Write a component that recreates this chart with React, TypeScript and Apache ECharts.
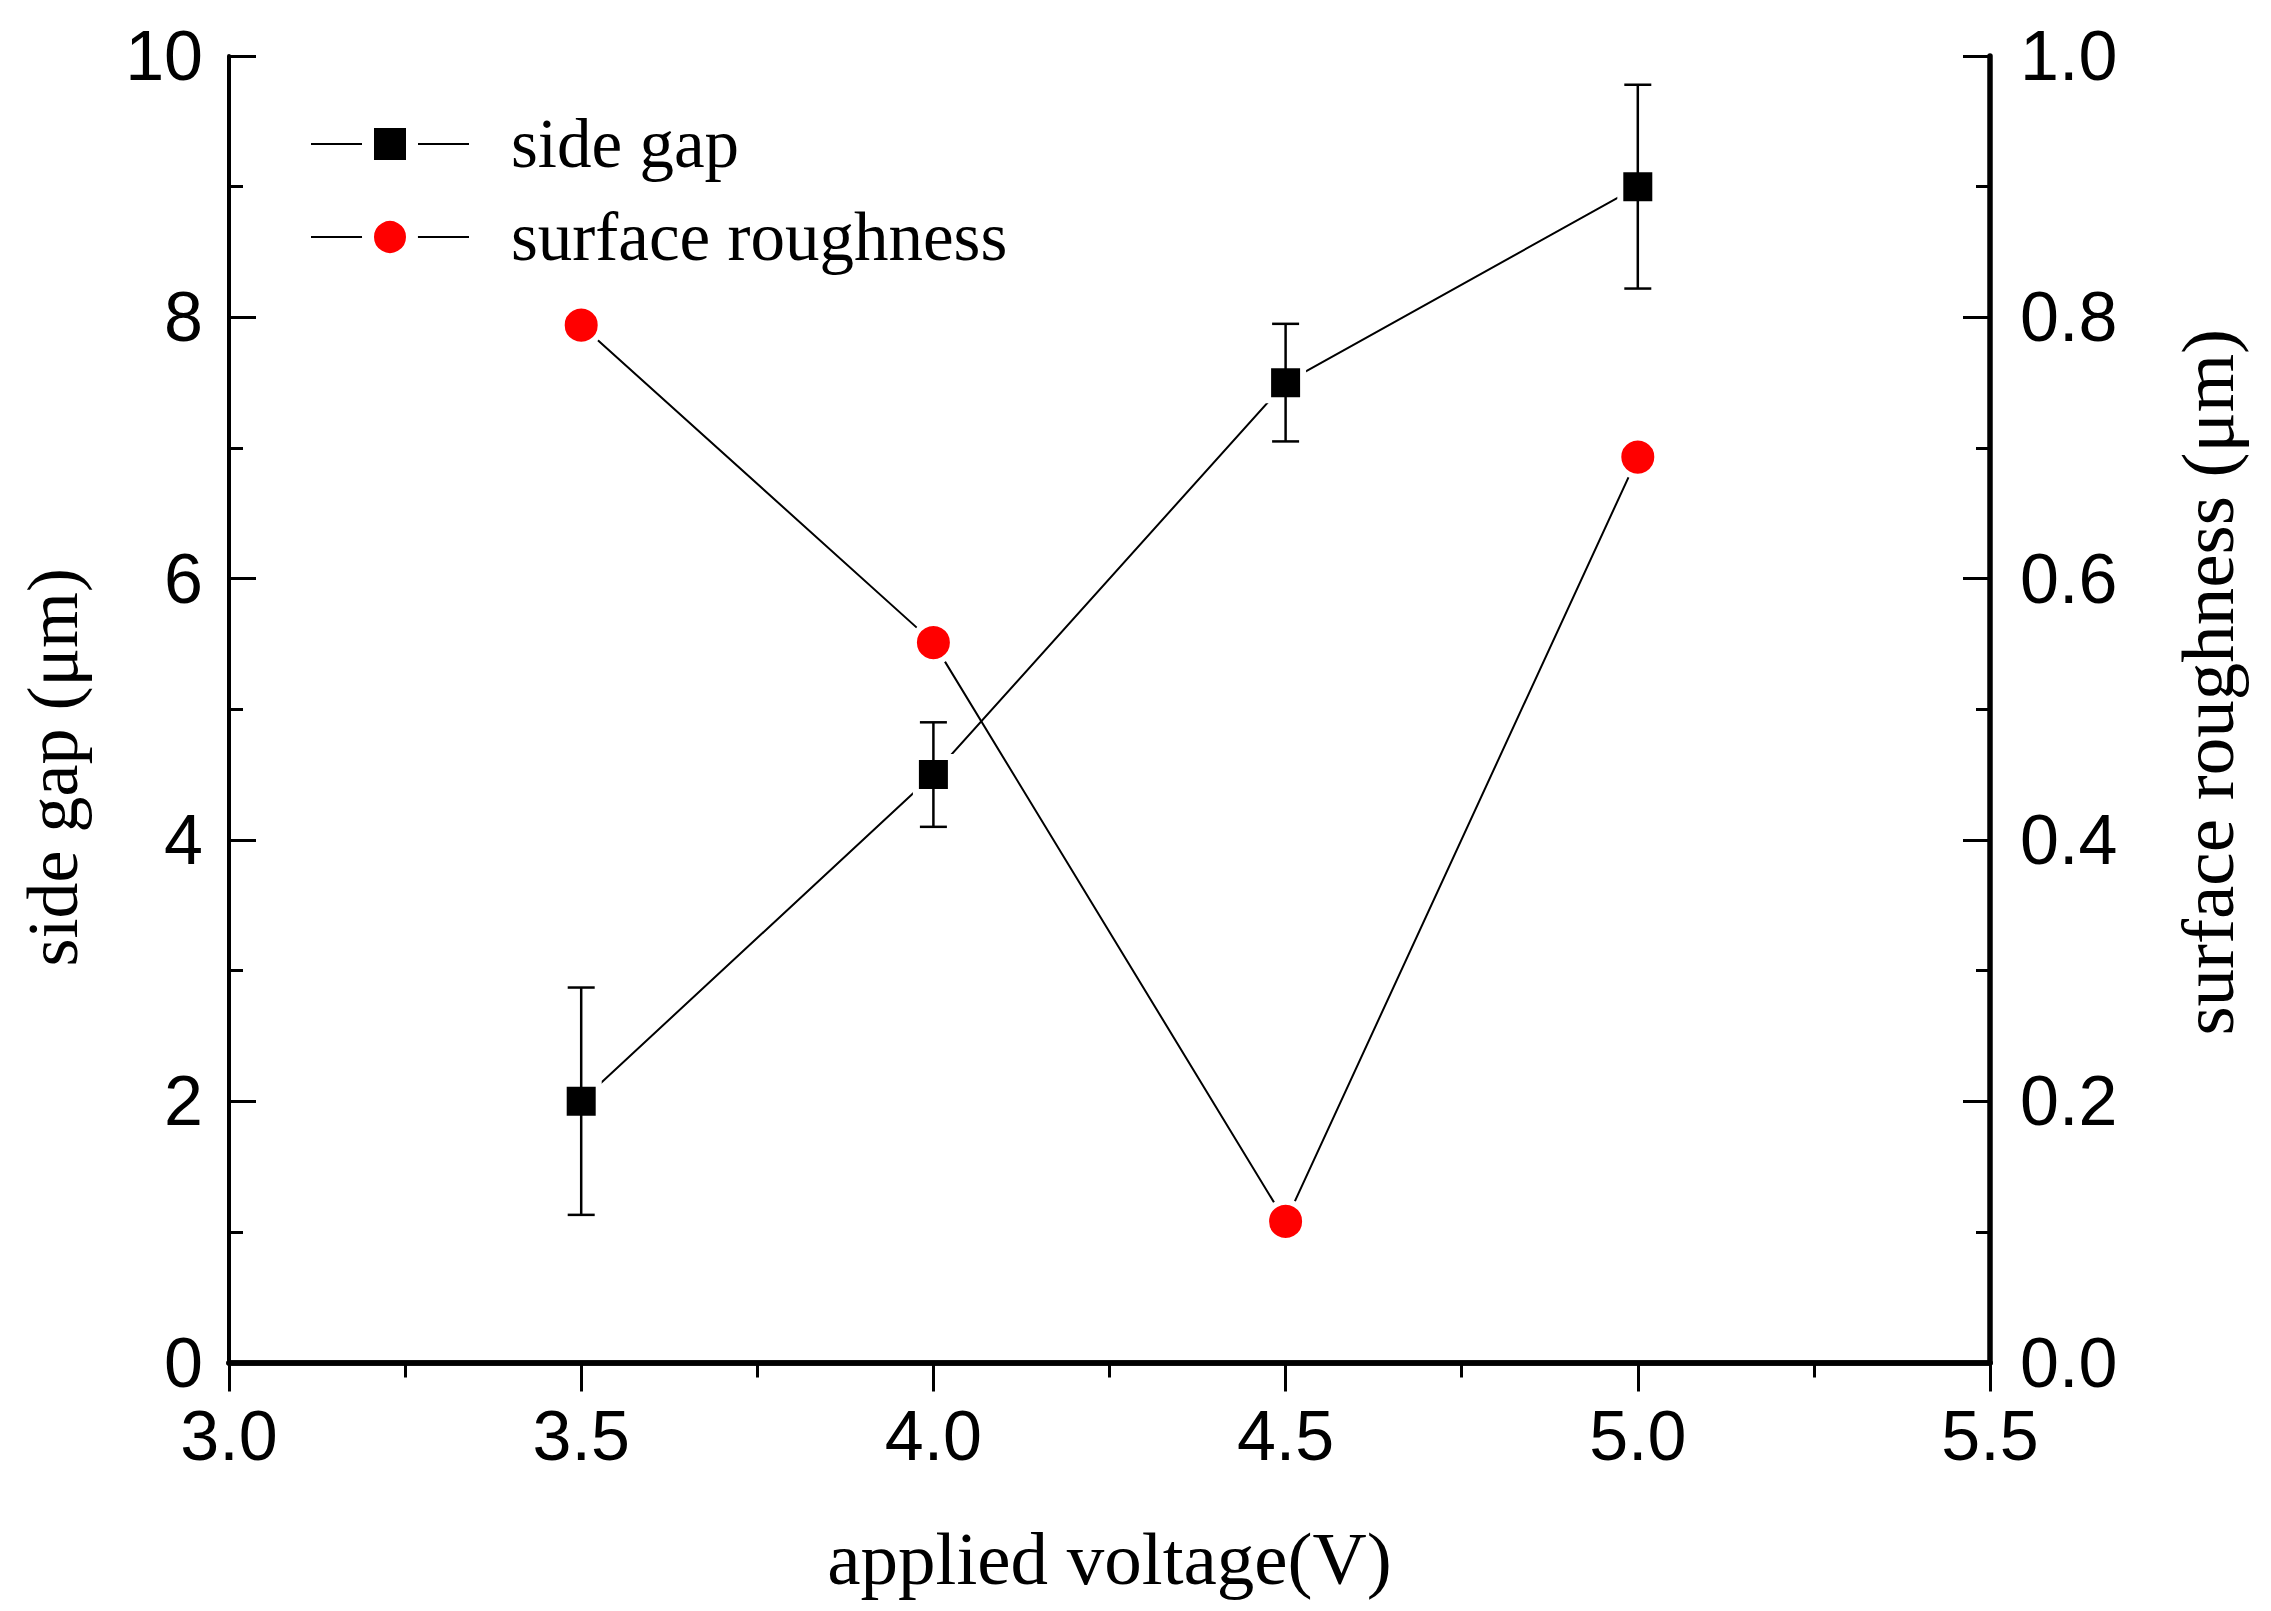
import React, { useEffect, useRef } from "react";
import * as echarts from "echarts";

const xValues = [3.5, 4.0, 4.5, 5.0];
const sideGap = [2.0, 4.5, 7.5, 9.0];
const sideGapErr = [0.87, 0.4, 0.45, 0.78];
const roughness = [0.794, 0.551, 0.108, 0.693];
const seriesNames = ["side gap", "surface roughness"];
const xAxisTitle = "applied voltage(V)";
const leftTitle = "side gap (μm)";
const rightTitle = "surface roughness (μm)";

const SANS = "Liberation Sans";
const SERIF = "Liberation Serif";

export default function App() {
  const ref = useRef<HTMLDivElement>(null);
  useEffect(() => {
    if (!ref.current) return;
    const chart = echarts.init(ref.current, undefined, { renderer: "svg" });
    const gapData = xValues.map((x, i) => [x, sideGap[i]]);
    const errData = xValues.map((x, i) => [x, sideGap[i], sideGapErr[i]]);
    const roughData = xValues.map((x, i) => [x, roughness[i]]);
    const tickLabel = { fontFamily: SANS, fontSize: 70, color: "#000" };
    const nameStyle = { fontFamily: SERIF, fontSize: 72, color: "#000" };
    const option: any = {
      animation: false,
      backgroundColor: "#fff",
      grid: { left: 229, right: 281, top: 56, bottom: 248.5, containLabel: false },
      legend: {
        orient: "vertical",
        left: 305,
        top: 104.5,
        itemWidth: 158,
        itemHeight: 55,
        itemGap: 24,
        itemStyle: { borderWidth: 12 },
        textStyle: { fontFamily: SERIF, fontSize: 69, color: "#000", padding: [14, 0, 0, 37] },
        data: seriesNames,
      },
      xAxis: [
        {
          type: "value",
          min: 3,
          max: 5.5,
          interval: 0.5,
          position: "bottom",
          name: xAxisTitle,
          nameLocation: "middle",
          nameGap: 158,
          nameTextStyle: { ...nameStyle, fontSize: 75 },
          axisLine: { show: true, lineStyle: { color: "#000", width: 5.5 } },
          axisTick: { show: true, inside: false, length: 29, lineStyle: { color: "#000", width: 3 } },
          minorTick: { show: true, splitNumber: 2, length: 15, lineStyle: { color: "#000", width: 3 } },
          axisLabel: { ...tickLabel, margin: 38, formatter: (v: number) => v.toFixed(1) },
          splitLine: { show: false },
        },
        {
          type: "value",
          min: 3,
          max: 5.5,
          interval: 0.5,
          position: "top",
          axisLine: { show: true, lineStyle: { color: "#000", width: 5.5 } },
          axisTick: { show: false },
          axisLabel: { show: false },
          splitLine: { show: false },
        },
      ],
      yAxis: [
        {
          type: "value",
          min: 0,
          max: 10,
          interval: 2,
          position: "left",
          name: leftTitle,
          nameLocation: "middle",
          nameGap: 140,
          nameTextStyle: { ...nameStyle, padding: [0, 116, 0, 0] },
          axisLine: { show: true, lineStyle: { color: "#000", width: 4 } },
          axisTick: { show: true, inside: true, length: 27, lineStyle: { color: "#000", width: 3 } },
          minorTick: { show: true, splitNumber: 2, length: 14, lineStyle: { color: "#000", width: 3 } },
          axisLabel: { ...tickLabel, margin: 26 },
          splitLine: { show: false },
        },
        {
          type: "value",
          min: 0,
          max: 1,
          interval: 0.2,
          position: "right",
          name: rightTitle,
          nameLocation: "middle",
          nameGap: 180,
          nameTextStyle: { ...nameStyle, fontSize: 75, padding: [0, 0, 0, 54] },
          axisLine: { show: true, lineStyle: { color: "#000", width: 5.5 } },
          axisTick: { show: true, inside: true, length: 27, lineStyle: { color: "#000", width: 3 } },
          minorTick: { show: true, splitNumber: 2, length: 14, lineStyle: { color: "#000", width: 3 } },
          axisLabel: { ...tickLabel, margin: 30, formatter: (v: number) => v.toFixed(1) },
          splitLine: { show: false },
        },
      ],
      series: [
        {
          type: "line",
          name: seriesNames[0],
          xAxisIndex: 0,
          yAxisIndex: 0,
          z: 3,
          data: gapData,
          symbol: "rect",
          symbolSize: 35,
          itemStyle: { color: "#000", borderColor: "#fff", borderWidth: 6 },
          lineStyle: { color: "#000", width: 2 },
        },
        {
          type: "line",
          name: seriesNames[1],
          xAxisIndex: 0,
          yAxisIndex: 1,
          z: 3,
          data: roughData,
          symbol: "circle",
          symbolSize: 39,
          itemStyle: { color: "#ff0000", borderColor: "#fff", borderWidth: 6 },
          lineStyle: { color: "#000", width: 2 },
        },
        {
          type: "custom",
          name: "side gap error",
          xAxisIndex: 0,
          yAxisIndex: 0,
          z: 5,
          data: errData,
          renderItem: (params: any, api: any) => {
            const x = api.value(0);
            const y = api.value(1);
            const e = api.value(2);
            const top = api.coord([x, y + e]);
            const bot = api.coord([x, y - e]);
            const hw = 13.5;
            const style = { stroke: "#000", lineWidth: 2.5 };
            return {
              type: "group",
              children: [
                { type: "line", shape: { x1: top[0], y1: top[1], x2: bot[0], y2: bot[1] }, style },
                { type: "line", shape: { x1: top[0] - hw, y1: top[1], x2: top[0] + hw, y2: top[1] }, style },
                { type: "line", shape: { x1: bot[0] - hw, y1: bot[1], x2: bot[0] + hw, y2: bot[1] }, style },
              ],
            };
          },
        },
      ],
    };
    chart.setOption(option);
    return () => chart.dispose();
  }, []);
  return (
    <div
      ref={ref}
      style={{ position: "fixed", left: 0, top: 0, width: 2271, height: 1611, background: "#fff" }}
    />
  );
}
